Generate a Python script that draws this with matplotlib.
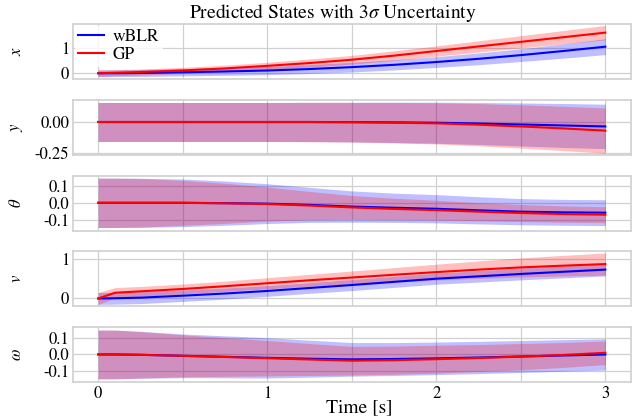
import matplotlib
matplotlib.use("Agg")
import matplotlib.pyplot as plt
from matplotlib.ticker import MultipleLocator, FormatStrFormatter
import numpy as np

# ---- data ----
t = [0, 0.1, 0.25, 0.5, 0.75, 1.0, 1.25, 1.5, 1.75, 2.0, 2.25, 2.5, 2.75, 3.0]

x_blr = [0, 0.002, 0.01, 0.04, 0.07, 0.107, 0.165, 0.24, 0.33, 0.44, 0.565, 0.71, 0.87, 1.04]
x_blr_s3 = [0.13, 0.13, 0.135, 0.14, 0.15, 0.16, 0.175, 0.19, 0.2, 0.21, 0.23, 0.25, 0.28, 0.31]
x_gp = [0.0, 0.02, 0.05, 0.11, 0.19, 0.29, 0.40, 0.53, 0.69, 0.87, 1.05, 1.23, 1.41, 1.59]
x_gp_s3 = [0.13, 0.12, 0.12, 0.12, 0.13, 0.14, 0.16, 0.17, 0.19, 0.2, 0.22, 0.24, 0.26, 0.28]

y_blr = [0, 0, 0, 0, 0, 0, 0, -0.001, -0.003, -0.006, -0.012, -0.02, -0.028, -0.036]
y_blr_s3 = [0.158, 0.158, 0.158, 0.158, 0.158, 0.158, 0.159, 0.16, 0.163, 0.166, 0.17, 0.174, 0.178, 0.18]
y_gp = [0, 0, 0, 0, 0, 0, 0, -0.002, -0.006, -0.011, -0.022, -0.036, -0.052, -0.07]
y_gp_s3 = [0.158, 0.158, 0.158, 0.158, 0.158, 0.158, 0.159, 0.161, 0.164, 0.167, 0.171, 0.175, 0.179, 0.183]

th_blr = [0, 0, 0, 0, -0.002, -0.005, -0.012, -0.022, -0.029, -0.035, -0.044, -0.052, -0.056, -0.058]
th_blr_s3 = [0.145, 0.145, 0.144, 0.14, 0.13, 0.117, 0.103, 0.092, 0.086, 0.083, 0.080, 0.077, 0.076, 0.076]
th_gp = [0, 0, 0, 0, -0.003, -0.007, -0.016, -0.027, -0.036, -0.043, -0.052, -0.060, -0.066, -0.070]
th_gp_s3 = [0.145, 0.145, 0.143, 0.132, 0.118, 0.10, 0.083, 0.07, 0.063, 0.058, 0.053, 0.05, 0.048, 0.047]

v_blr = [0, 0.005, 0.02, 0.07, 0.125, 0.19, 0.265, 0.34, 0.42, 0.5, 0.56, 0.62, 0.675, 0.73]
v_blr_s3 = [0.15, 0.15, 0.15, 0.145, 0.14, 0.135, 0.135, 0.14, 0.14, 0.14, 0.145, 0.15, 0.155, 0.16]
v_gp = [0, 0.145, 0.18, 0.24, 0.31, 0.385, 0.46, 0.53, 0.6, 0.667, 0.73, 0.786, 0.83, 0.87]
v_gp_s3 = [0.15, 0.13, 0.125, 0.125, 0.13, 0.14, 0.15, 0.165, 0.18, 0.2, 0.22, 0.24, 0.26, 0.28]

w_blr = [0, 0, -0.002, -0.008, -0.014, -0.02, -0.025, -0.029, -0.027, -0.023, -0.018, -0.012, -0.006, 0.0]
w_blr_s3 = [0.145, 0.145, 0.14, 0.13, 0.125, 0.12, 0.11, 0.1, 0.098, 0.097, 0.096, 0.095, 0.094, 0.093]
w_gp = [0, 0, -0.002, -0.008, -0.015, -0.022, -0.03, -0.037, -0.034, -0.028, -0.021, -0.013, -0.003, 0.01]
w_gp_s3 = [0.145, 0.145, 0.138, 0.125, 0.115, 0.105, 0.095, 0.085, 0.084, 0.083, 0.08, 0.078, 0.074, 0.07]

labels = [r"$x$", r"$y$", r"$\theta$", r"$v$", r"$\omega$"]
ylims = [(-0.22, 1.93), (-0.265, 0.18), (-0.163, 0.16), (-0.2, 1.19), (-0.165, 0.162)]
yticks = [[0, 1], [-0.25, 0.0], [-0.1, 0.0, 0.1], [0, 1], [-0.1, 0.0, 0.1]]
yfmt = ["%d", "%.2f", "%.1f", "%d", "%.1f"]
xticks = [0, 1, 2, 3]

series = [
    (x_blr, x_blr_s3, x_gp, x_gp_s3),
    (y_blr, y_blr_s3, y_gp, y_gp_s3),
    (th_blr, th_blr_s3, th_gp, th_gp_s3),
    (v_blr, v_blr_s3, v_gp, v_gp_s3),
    (w_blr, w_blr_s3, w_gp, w_gp_s3),
]

plt.rcParams.update({
    "font.family": "serif",
    "font.serif": ["STIXGeneral", "Liberation Serif", "DejaVu Serif"],
    "mathtext.fontset": "stix",
    "font.size": 12,
    "axes.unicode_minus": False,
})

fig, axes = plt.subplots(5, 1, figsize=(6.39, 4.20), dpi=100, sharex=True)
fig.subplots_adjust(left=0.114, right=0.987, top=0.943, bottom=0.09, hspace=0.38)

tt = np.array(t)
for i, ax in enumerate(axes):
    mb, sb, mg, sg = [np.array(a) for a in series[i]]
    ax.fill_between(tt, mb - sb, mb + sb, color="blue", alpha=0.25, linewidth=0)
    ax.fill_between(tt, mg - sg, mg + sg, color="red", alpha=0.25, linewidth=0)
    ax.plot(tt, mb, color="blue", lw=1.5, label="wBLR")
    ax.plot(tt, mg, color="red", lw=1.5, label="GP")
    ax.set_ylim(*ylims[i])
    ax.set_yticks(yticks[i])
    ax.yaxis.set_major_formatter(FormatStrFormatter(yfmt[i]))
    ax.set_xticks(xticks)
    ax.xaxis.set_minor_locator(MultipleLocator(0.5))
    ax.set_xlim(-0.15, 3.15)
    ax.grid(True, which="both", axis="x", color="#d0d0d0", lw=0.9)
    ax.grid(True, which="major", axis="y", color="#d0d0d0", lw=0.9)
    ax.set_axisbelow(True)
    ax.tick_params(which="both", length=0, pad=2.5, labelsize=12)
    for sp in ax.spines.values():
        sp.set_color("#d0d0d0")
        sp.set_linewidth(1.2)
    ax.set_ylabel(labels[i], fontsize=12)
    ax.yaxis.set_label_coords(-0.085, 0.5)

ttl = axes[0].set_title(r"Predicted States with $3\sigma$ Uncertainty", fontsize=14, pad=2)
ttl.set_x(0.466)
leg = axes[0].legend(loc="upper left", fontsize=12.5, framealpha=0.8, edgecolor="none",
                     borderaxespad=0.1, handlelength=1.5, borderpad=0.2, labelspacing=0.1,
                     handletextpad=0.5)
axes[-1].set_xlabel("Time [s]", fontsize=14)
axes[-1].xaxis.set_label_coords(0.514, -0.31)

fig.savefig("out.png", dpi=100)
